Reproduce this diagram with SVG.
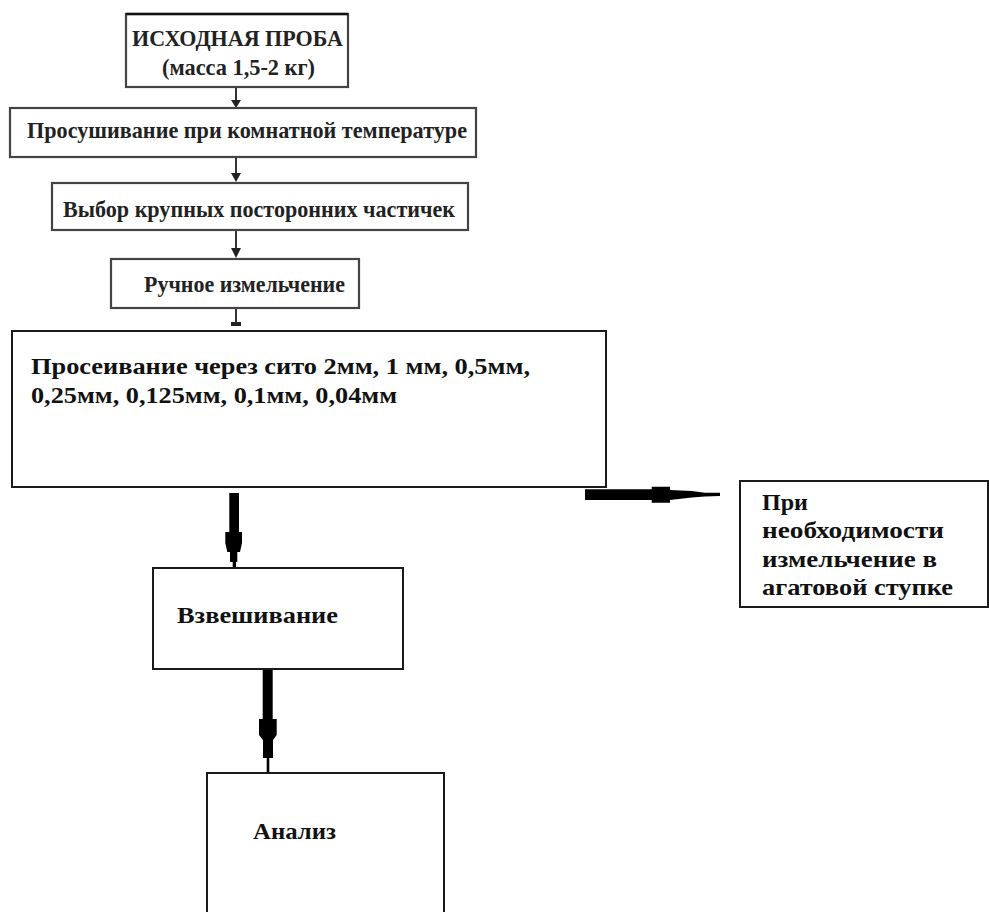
<svg xmlns="http://www.w3.org/2000/svg" width="989" height="912" viewBox="0 0 989 912">
<defs>
<style>
.tb{fill:#fff;stroke:#444;stroke-width:2.2}
.bb{fill:#fff;stroke:#1a1a1a;stroke-width:2}
.tt{font-family:"Liberation Serif","Times New Roman",serif;font-weight:bold;font-size:24px;fill:#222}
.bt{font-family:"Liberation Serif","Times New Roman",serif;font-weight:bold;font-size:24px;fill:#111}
.ln{stroke:#333;stroke-width:2;fill:none}
.hd{fill:#222}
.fat{fill:#000}
</style>
</defs>
<rect width="989" height="912" fill="#fff"/>
<g id="connectors">
<line class="ln" x1="236" y1="87" x2="236" y2="102"/>
<path class="hd" d="M231,100 L241,100 L236,108 Z"/>
<line class="ln" x1="236" y1="157" x2="236" y2="175"/>
<path class="hd" d="M231,173 L241,173 L236,182 Z"/>
<line class="ln" x1="236" y1="230" x2="236" y2="250"/>
<path class="hd" d="M231,248 L241,248 L236,258 Z"/>
<line class="ln" x1="236" y1="308" x2="236" y2="324"/>
<path class="hd" d="M231,322 L241,322 L241,326 L231,326 Z"/>
<path class="fat" d="M229.3,493 L239,493 L239,532 L242,532 L242,543 L240,552 L237.3,552 L237.3,562 L236,562 L236,568 L232.7,568 L232.7,562 L230,562 L230,552 L227.3,552 L225.3,543 L225.3,532 L229.3,532 Z"/>
<path class="fat" d="M262.7,669 L272.7,669 L272.7,719 L276.7,719 L276.7,735 L273,740 L273,758 L269.3,758 L269.3,773 L266.7,773 L266.7,758 L263,758 L263,740 L259,735 L259,719 L262.7,719 Z"/>
<path class="fat" d="M585,489.3 L651.7,489.3 L651.7,486.7 L670,486.7 L670,490 L691.7,491 L705,492.7 L720,492.7 L720,496 L705,496.5 L691.7,497.5 L670,500 L670,502.7 L651.7,502.7 L651.7,500 L585,500 Z"/>
</g>
<g id="n1">
<rect class="tb" x="126" y="14" width="222" height="73"/>
<line x1="126" y1="14" x2="348" y2="14" stroke="#111" stroke-width="2.5"/>
<text class="tt" x="132" y="46" font-size="22" textLength="211" lengthAdjust="spacingAndGlyphs">ИСХОДНАЯ ПРОБА</text>
<text class="tt" x="162" y="75" textLength="153" lengthAdjust="spacingAndGlyphs">(масса 1,5-2 кг)</text>
</g>
<g id="n2">
<rect class="tb" x="10" y="108" width="466" height="49"/>
<text class="tt" x="27" y="138" textLength="440" lengthAdjust="spacingAndGlyphs">Просушивание при комнатной температуре</text>
</g>
<g id="n3">
<rect class="tb" x="52" y="183" width="416" height="47"/>
<text class="tt" x="63" y="217" textLength="392" lengthAdjust="spacingAndGlyphs">Выбор крупных посторонних частичек</text>
</g>
<g id="n4">
<rect class="tb" x="111" y="259" width="248" height="49"/>
<text class="tt" x="144" y="292" textLength="201" lengthAdjust="spacingAndGlyphs">Ручное измельчение</text>
</g>
<g id="n5">
<rect class="bb" x="12" y="331" width="594" height="156"/>
<text class="bt" x="31" y="374" textLength="499" lengthAdjust="spacingAndGlyphs">Просеивание через сито 2мм, 1 мм, 0,5мм,</text>
<text class="bt" x="31" y="403" textLength="366" lengthAdjust="spacingAndGlyphs">0,25мм, 0,125мм, 0,1мм, 0,04мм</text>
</g>
<g id="n6">
<rect class="bb" x="740" y="481" width="248" height="126"/>
<text class="bt" x="762" y="510" textLength="46" lengthAdjust="spacingAndGlyphs">При</text>
<text class="bt" x="762" y="538" textLength="182" lengthAdjust="spacingAndGlyphs">необходимости</text>
<text class="bt" x="762" y="567" textLength="175" lengthAdjust="spacingAndGlyphs">измельчение в</text>
<text class="bt" x="762" y="595" textLength="191" lengthAdjust="spacingAndGlyphs">агатовой ступке</text>
</g>
<g id="n7">
<rect class="bb" x="153" y="568" width="250" height="101"/>
<text class="bt" x="177" y="623" textLength="161" lengthAdjust="spacingAndGlyphs">Взвешивание</text>
</g>
<g id="n8">
<rect class="bb" x="207" y="773" width="237" height="160"/>
<text class="bt" x="253" y="839" textLength="83" lengthAdjust="spacingAndGlyphs">Анализ</text>
</g>
</svg>
